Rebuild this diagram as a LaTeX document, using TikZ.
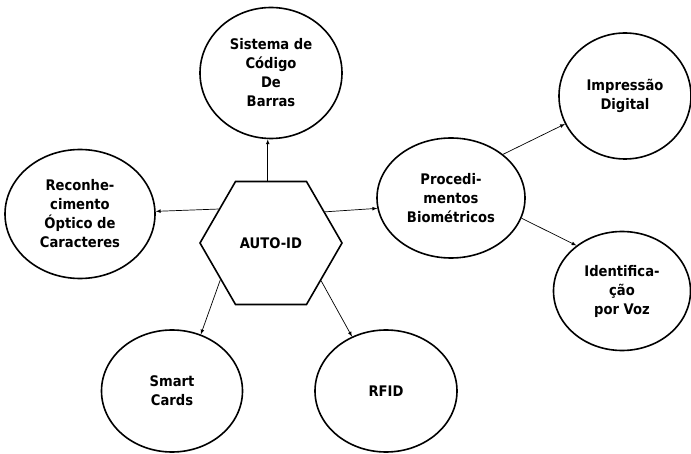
\documentclass[tikz,border=0pt]{standalone}
\usepackage{fontspec}
\setmainfont{DejaVu Sans Condensed}
\usetikzlibrary{shapes.geometric}
\begin{document}
\begin{tikzpicture}
    [
    x=1pt,y=-1pt,
    font=\bfseries\fontsize{14.6}{19}\selectfont,
    bubble/.style={ellipse,draw,line width=1.6pt,inner sep=0pt,align=center},
    hexa/.style={regular polygon,regular polygon sides=6,draw,line width=1.6pt,inner sep=0pt,minimum size=142pt},
    link/.style={-latex,line width=0.7pt}
    ]
    \useasboundingbox (0,0) rectangle (691,454);
    \node (auto) at (271,243) [hexa] {AUTO-ID};
    \node (sis) at (271,73) [bubble,minimum width=142pt,minimum height=131pt] {Sistema de\\Código\\De\\Barras};
    \node (reco) at (80,214) [bubble,minimum width=150pt,minimum height=129pt] {Reconhe-\\cimento\\Óptico de\\Caracteres};
    \node (proc) at (451,198) [bubble,minimum width=148pt,minimum height=120pt] {Procedi-\\mentos\\Biométricos};
    \node (imp) at (625,96) [bubble,minimum width=132pt,minimum height=126pt] {Impressão\\Digital};
    \node (voz) at (622,291) [bubble,minimum width=137pt,minimum height=119pt] {Identifica-\\ção\\por Voz};
    \node (smart) at (172,391) [bubble,minimum width=141pt,minimum height=122pt] {Smart\\Cards};
    \node (rfid) at (386,391) [bubble,minimum width=142pt,minimum height=122pt] {RFID};
    \draw [link] (auto.93) to (auto.93 |- sis.south);
    \draw [link] (auto.147) to (reco.2);
    \draw [link] (auto.30) to (proc.188);
    \draw [link] (auto.216) to (smart.63);
    \draw [link] (auto.323) to (rfid.122);
    \draw [link] (proc.40) to (imp.205);
    \draw [link] (proc.344) to (voz.135);
  \end{tikzpicture}
\end{document}
